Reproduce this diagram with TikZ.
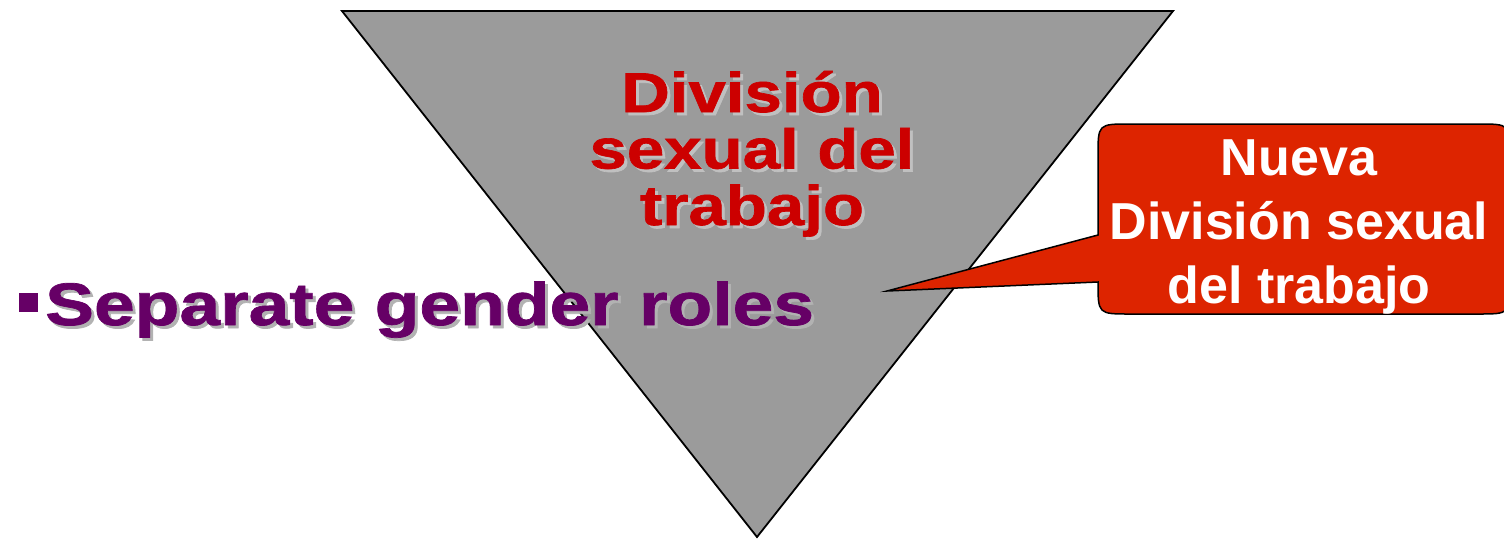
\documentclass[tikz,border=0pt]{standalone}
\usepackage{fontspec}
\setmainfont{Liberation Sans}
\newfontfamily\heavyfont{Liberation Sans}[FakeBold=1.2,FakeStretch=1.2]
\newfontfamily\roleheavyfont{Liberation Sans}[FakeBold=1.2,FakeStretch=1.22]
\definecolor{trigray}{RGB}{155,155,155}
\definecolor{titlered}{RGB}{204,0,0}
\definecolor{shadowongray}{RGB}{192,192,192}
\definecolor{shadowonwhite}{RGB}{178,178,178}
\definecolor{rolepurple}{RGB}{102,0,102}
\definecolor{calloutred}{RGB}{221,36,0}
\begin{document}
\begin{tikzpicture}[x=1pt,y=-1pt,
  outline/.style={draw=black,line width=1.8pt,line join=miter},
  titletext/.style={inner sep=0pt,align=center,anchor=base,
    font=\heavyfont\bfseries\fontsize{56}{56.5}\selectfont},
  roletext/.style={inner sep=0pt,anchor=base west,
    font=\roleheavyfont\bfseries\fontsize{60}{60}\selectfont},
  callouttext/.style={inner sep=0pt,align=center,anchor=base,text=white,
    font=\bfseries\fontsize{52}{64}\selectfont}]
\useasboundingbox (0,0) rectangle (1504,539);
\clip (0,0) rectangle (1504,539);
% triangle
\coordinate (tl) at (342,11);
\coordinate (tr) at (1173,11);
\coordinate (tb) at (757,537);
\draw[outline,fill=trigray] (tl) -- (tr) -- (tb) -- cycle;
% title with shadow (anchor = baseline of last line)
\node[titletext,text=shadowongray] (titleshadow) at (755,228) {División\\sexual del\\trabajo};
\node[titletext,text=titlered] (title) at (752,225) {División\\sexual del\\trabajo};
% bullet and role text with shadow
\node[fill=rolepurple,minimum size=19pt,inner sep=0pt] (bullet) at (28,302) {};
\node[roletext,text=shadowonwhite] (roleshadow) at (48,328) {Separate gender roles};
\node[roletext,text=rolepurple] (role) at (45,325) {Separate gender roles};
% callout
\coordinate (tip) at (887,291);
\draw[outline,line width=1.5pt,fill=calloutred]
  (1098,235) -- (tip) -- (1098,282)
  .. controls (1098,314) .. (1130,314)
  -- (1478,314) .. controls (1510,314) .. (1510,282)
  -- (1510,156) .. controls (1510,124) .. (1478,124)
  -- (1130,124) .. controls (1098,124) .. (1098,156)
  -- cycle;
\node[callouttext] (callout) at (1299,303) {Nueva\\División sexual\\del trabajo};
\end{tikzpicture}
\end{document}
